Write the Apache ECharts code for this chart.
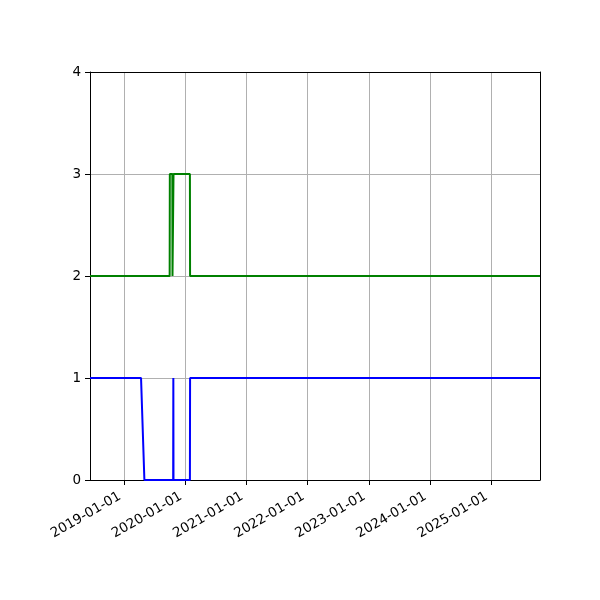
<!DOCTYPE html>
<html>
<head>
<meta charset="utf-8">
<script src="https://cdn.jsdelivr.net/npm/echarts@6/dist/echarts.min.js"></script>
<style>
  html, body { margin: 0; padding: 0; background: #fff; }
  #main { width: 600px; height: 600px; }
</style>
</head>
<body>
<div id="main"></div>
<script>
// x range of the plot
const xMin = '2018-06-10';
const xMax = '2025-10-20';

// blue series (dates and values)
const blueDates = ['2018-06-10', '2019-04-11', '2019-05-01', '2019-10-20', '2019-10-21', '2019-10-22', '2020-01-28', '2020-01-29', '2025-10-20'];
const blueValues = [1, 1, 0, 0, 1, 0, 0, 1, 1];

// green series
const greenDates = ['2018-06-10', '2019-09-29', '2019-09-30', '2019-10-15', '2019-10-16', '2019-10-21', '2019-10-22', '2020-01-28', '2020-01-29', '2025-10-20'];
const greenValues = [2, 2, 3, 3, 2, 2, 3, 3, 2, 2];

const yTicks = [0, 1, 2, 3, 4];

const YEAR = 365 * 24 * 3600 * 1000;
const font = 'DejaVu Sans';

const zip = (d, v) => d.map((x, i) => [x, v[i]]);

var myChart = echarts.init(document.getElementById('main'));

const option = {
    animation: false,
    backgroundColor: '#fff',
    grid: { left: 90, right: 60, top: 72, bottom: 120 },
    xAxis: [
        {
            type: 'time',
            min: xMin,
            max: xMax,
            minInterval: YEAR,
            maxInterval: YEAR + 24 * 3600 * 1000,
            axisLine: { show: true, lineStyle: { color: '#000', width: 1 } },
            axisTick: { show: true, length: 5, lineStyle: { color: '#000', width: 1 } },
            axisLabel: {
                rotate: 30,
                margin: 13,
                padding: [0, 5, 0, 0],
                color: '#000',
                fontFamily: font,
                fontSize: 13.5,
                showMinLabel: false,
                showMaxLabel: false,
                formatter: (val) => echarts.time.format(val, '{yyyy}-{MM}-{dd}', false)
            },
            splitLine: { show: true, lineStyle: { color: '#b0b0b0', width: 1 } }
        },
        {
            type: 'time',
            position: 'top',
            min: xMin,
            max: xMax,
            axisLine: { show: true, onZero: false, lineStyle: { color: '#000', width: 1 } },
            axisTick: { show: false },
            axisLabel: { show: false },
            splitLine: { show: false }
        }
    ],
    yAxis: [
        {
            type: 'value',
            min: yTicks[0],
            max: yTicks[yTicks.length - 1],
            interval: 1,
            axisLine: { show: true, lineStyle: { color: '#000', width: 1 } },
            axisTick: { show: true, length: 5, lineStyle: { color: '#000', width: 1 } },
            axisLabel: { margin: 9, color: '#000', fontFamily: font, fontSize: 13.5 },
            splitLine: { show: true, lineStyle: { color: '#b0b0b0', width: 1 } }
        },
        {
            type: 'value',
            position: 'right',
            min: yTicks[0],
            max: yTicks[yTicks.length - 1],
            interval: 1,
            axisLine: { show: true, onZero: false, lineStyle: { color: '#000', width: 1 } },
            axisTick: { show: false },
            axisLabel: { show: false },
            splitLine: { show: false }
        }
    ],
    series: [
        {
            name: 'blue',
            type: 'line',
            data: zip(blueDates, blueValues),
            showSymbol: false,
            symbol: 'none',
            lineStyle: { color: '#0000ff', width: 2 },
            z: 3
        },
        {
            name: 'green',
            type: 'line',
            data: zip(greenDates, greenValues),
            showSymbol: false,
            symbol: 'none',
            lineStyle: { color: '#008000', width: 2 },
            z: 3
        }
    ]
};

myChart.setOption(option);
</script>
</body>
</html>
